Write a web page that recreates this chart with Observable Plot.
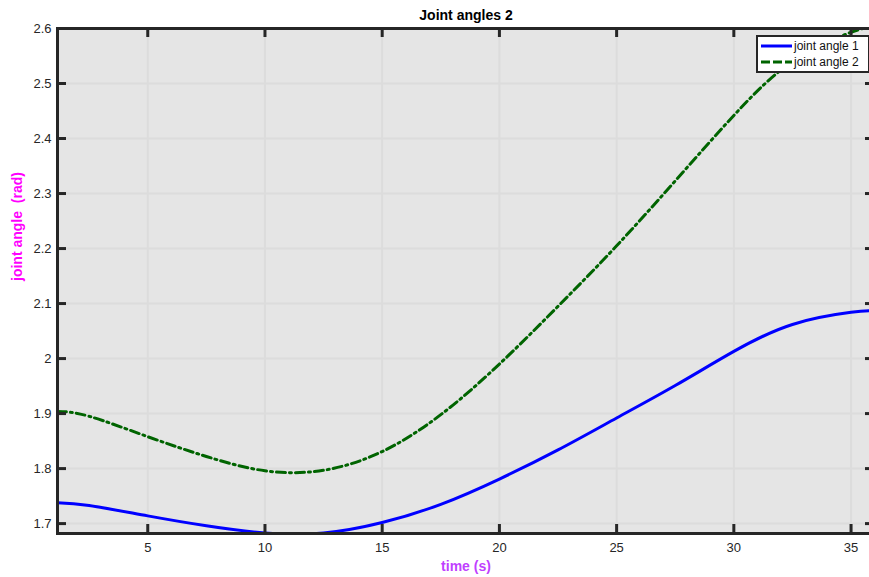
<!DOCTYPE html>
<html><head><meta charset="utf-8">
<script src="https://cdn.jsdelivr.net/npm/d3@7"></script>
<script src="https://cdn.jsdelivr.net/npm/@observablehq/plot@0.6"></script>
<style>
html,body{margin:0;padding:0;background:#fff;overflow:hidden;width:869px;height:577px;}
#wrap{position:relative;width:869px;height:577px;overflow:hidden;}
#chart svg{max-width:none !important;}
#legend{position:absolute;left:756px;top:35px;width:110px;height:34px;background:#fff;border:2.5px solid #262626;font-family:"Liberation Sans",Arial,sans-serif;font-size:12px;color:#111;}
#legend .row{position:absolute;left:0;height:16px;display:flex;align-items:center;}
#legend svg{margin-left:3px;margin-right:2px;}
</style></head>
<body><div id="wrap"><div id="chart"></div><div id="legend"></div></div>
<script>
const time   = [1.15, 2.5, 5, 7.5, 10, 12.5, 15, 17.5, 20, 22.5, 25, 27.5, 30, 32.5, 35, 36];
const angle1 = [1.738, 1.733, 1.714, 1.696, 1.683, 1.683, 1.702, 1.735, 1.781, 1.834, 1.892, 1.951, 2.013, 2.062, 2.084, 2.087];
const angle2 = [1.904, 1.895, 1.858, 1.822, 1.796, 1.797, 1.831, 1.898, 1.990, 2.095, 2.205, 2.323, 2.442, 2.540, 2.593, 2.604];
const seriesNames = ["joint angle 1", "joint angle 2"];
const xTicks = [5, 10, 15, 20, 25, 30, 35];
const yTicks = [1.7, 1.8, 1.9, 2.0, 2.1, 2.2, 2.3, 2.4, 2.5, 2.6];
const titleText = "Joint angles 2";
const xLabel = "time (s)";
const yLabel = "joint angle  (rad)";

const xDomain = [1.15, 36];
const yDomain = [1.682, 2.6];
const W = 876, H = 577, mL = 57, mR = 2, mT = 28, mB = 44;
const pxX = (W - mL - mR) / (xDomain[1] - xDomain[0]);
const pxY = (H - mT - mB) / (yDomain[1] - yDomain[0]);
const tickLen = 9;
const dxT = tickLen / pxX, dyT = tickLen / pxY;

const d1 = time.map((t, i) => ({t, v: angle1[i]}));
const d2 = time.map((t, i) => ({t, v: angle2[i]}));
const axisCol = "#262626";
const font = "Liberation Sans, Arial, sans-serif";

const chart = Plot.plot({
  width: W, height: H,
  marginLeft: mL, marginRight: mR, marginTop: mT, marginBottom: mB,
  style: {fontFamily: font, fontSize: "13px", color: axisCol, background: "transparent", maxWidth: "none"},
  x: {domain: xDomain},
  y: {domain: yDomain},
  marks: [
    Plot.frame({fill: "#e5e5e5"}),
    Plot.gridX(xTicks, {stroke: "#dcdcdc", strokeOpacity: 1, strokeWidth: 2}),
    Plot.gridY(yTicks, {stroke: "#dcdcdc", strokeOpacity: 1, strokeWidth: 2}),
    Plot.line(d1, {x: "t", y: "v", stroke: "#0000ff", strokeWidth: 3, curve: "natural", clip: true}),
    Plot.line(d2, {x: "t", y: "v", stroke: "#006400", strokeWidth: 3, curve: "natural", strokeDasharray: "9,4,2,4", clip: true}),
    Plot.frame({stroke: axisCol, strokeWidth: 3}),
    Plot.ruleX(xTicks, {y1: yDomain[0], y2: yDomain[0] + dyT, stroke: axisCol, strokeWidth: 3}),
    Plot.ruleX(xTicks, {y1: yDomain[1], y2: yDomain[1] - dyT, stroke: axisCol, strokeWidth: 3}),
    Plot.ruleY(yTicks, {x1: xDomain[0], x2: xDomain[0] + dxT, stroke: axisCol, strokeWidth: 3}),
    Plot.ruleY(yTicks, {x1: xDomain[1], x2: xDomain[1] - dxT, stroke: axisCol, strokeWidth: 3}),
    Plot.axisX(xTicks, {tickSize: 0, tickPadding: 9, label: null, fontSize: 13, fill: axisCol}),
    Plot.axisY(yTicks, {tickSize: 0, tickPadding: 6, label: null, fontSize: 13, fill: axisCol, tickFormat: d => String(+d.toFixed(1))}),
    Plot.text([titleText], {frameAnchor: "top", dy: -18, fontWeight: "bold", fontSize: 14, fill: "#000"}),
    Plot.text([xLabel], {frameAnchor: "bottom", dy: 37, fontWeight: "bold", fontSize: 14, fill: "#bf40ff"}),
    Plot.text([yLabel], {frameAnchor: "left", dx: -40, rotate: -90, fontWeight: "bold", fontSize: 14, fill: "#ff00ff"})
  ]
});
document.getElementById("chart").appendChild(chart);

const leg = document.getElementById("legend");
const styles = [{c: "#0000ff", dash: null}, {c: "#006400", dash: "9,3"}];
seriesNames.forEach((n, i) => {
  const row = document.createElement("div");
  row.className = "row";
  row.style.top = (1 + i * 16) + "px";
  row.innerHTML = `<svg width="31" height="6"><line x1="0" x2="31" y1="3" y2="3" stroke="${styles[i].c}" stroke-width="3" ${styles[i].dash ? `stroke-dasharray="${styles[i].dash}"` : ""}/></svg><span>${n}</span>`;
  leg.appendChild(row);
});
</script></body></html>
